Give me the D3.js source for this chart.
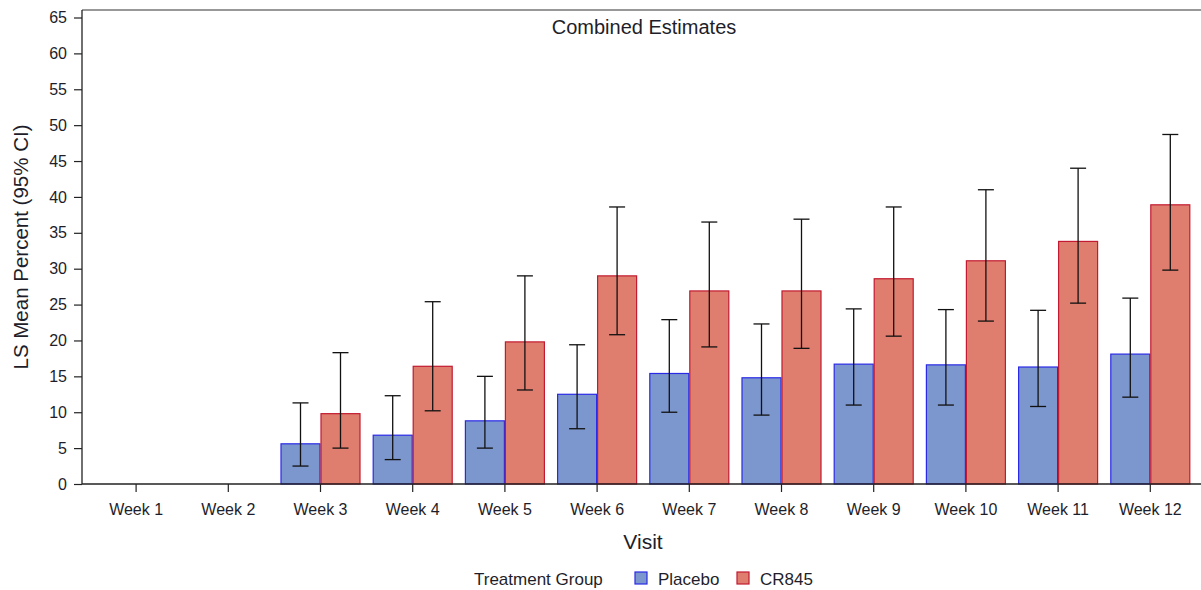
<!DOCTYPE html>
<html>
<head>
<meta charset="utf-8">
<script src="https://cdn.jsdelivr.net/npm/d3@7"></script>
<style>
  html, body { margin: 0; padding: 0; background: #fff; }
  svg { display: block; font-family: "Liberation Sans", Arial, sans-serif; }
</style>
</head>
<body>
<svg id="chart" width="1201" height="590"></svg>
<script>
// ---- data ----
const weeks = ["Week 1","Week 2","Week 3","Week 4","Week 5","Week 6","Week 7","Week 8","Week 9","Week 10","Week 11","Week 12"];
const groups = ["Placebo","CR845"];
const placeboMean  = [null, null, 5.6, 6.8, 8.8, 12.5, 15.4, 14.8, 16.7, 16.6, 16.3, 18.1];
const placeboLower = [null, null, 2.5, 3.4, 5.0, 7.7, 10.0, 9.6, 11.0, 11.0, 10.8, 12.1];
const placeboUpper = [null, null, 11.3, 12.3, 15.0, 19.4, 22.9, 22.3, 24.4, 24.3, 24.2, 25.9];
const cr845Mean    = [null, null, 9.8, 16.4, 19.8, 29.0, 26.9, 26.9, 28.6, 31.1, 33.8, 38.9];
const cr845Lower   = [null, null, 5.0, 10.2, 13.1, 20.8, 19.1, 18.9, 20.6, 22.7, 25.2, 29.8];
const cr845Upper   = [null, null, 18.3, 25.4, 29.0, 38.6, 36.5, 36.9, 38.6, 41.0, 44.0, 48.7];
const yTicks = [0,5,10,15,20,25,30,35,40,45,50,55,60,65];

const fills   = {"Placebo": "#7C97CD", "CR845": "#DF7E6E"};
const strokes = {"Placebo": "#2A2AE6", "CR845": "#C21A30"};
const textColor = "#1e1e2a";

const svg = d3.select("#chart");

const plot = {left: 82, top: 10, right: 1201, bottom: 484};

const y = d3.scaleLinear().domain([0, 65]).range([plot.bottom, 17.5]);
const x0 = d3.scaleBand().domain(weeks).range([90, 90 + 12 * 92.2]).padding(0);
const x1 = d3.scaleBand().domain(groups).range([6.1, 86.1]).padding(0);

// rows
const rows = [];
weeks.forEach((w, i) => {
  rows.push({week: w, group: "Placebo", mean: placeboMean[i], lo: placeboLower[i], hi: placeboUpper[i]});
  rows.push({week: w, group: "CR845", mean: cr845Mean[i], lo: cr845Lower[i], hi: cr845Upper[i]});
});
const valid = rows.filter(r => r.mean != null);

// frame top line
svg.append("line")
  .attr("x1", plot.left).attr("x2", plot.right)
  .attr("y1", plot.top).attr("y2", plot.top)
  .attr("stroke", "#333").attr("stroke-width", 1.2);

// bars
svg.append("g").selectAll("rect").data(valid).join("rect")
  .attr("x", d => x0(d.week) + x1(d.group) + 0.5)
  .attr("width", x1.bandwidth() - 1)
  .attr("y", d => y(d.mean))
  .attr("height", d => y(0) - y(d.mean))
  .attr("fill", d => fills[d.group])
  .attr("stroke", d => strokes[d.group])
  .attr("stroke-width", 1.2);

// error bars
const eb = svg.append("g").attr("stroke", "#111").attr("stroke-width", 1.3).attr("fill", "none");
valid.forEach(d => {
  const cx = x0(d.week) + x1(d.group) + x1.bandwidth() / 2;
  eb.append("line").attr("x1", cx).attr("x2", cx).attr("y1", y(d.lo)).attr("y2", y(d.hi));
  eb.append("line").attr("x1", cx - 8).attr("x2", cx + 8).attr("y1", y(d.lo)).attr("y2", y(d.lo));
  eb.append("line").attr("x1", cx - 8).attr("x2", cx + 8).attr("y1", y(d.hi)).attr("y2", y(d.hi));
});

// y axis
const yAxis = svg.append("g").attr("transform", `translate(${plot.left},0)`)
  .call(d3.axisLeft(y).tickValues(yTicks).tickSize(8).tickPadding(7).tickSizeOuter(0));
yAxis.select(".domain").attr("d", `M0,${plot.top}V${plot.bottom}`).attr("stroke", "#222").attr("stroke-width", 1.3);
yAxis.selectAll(".tick line").attr("stroke", "#222").attr("stroke-width", 1.2);
yAxis.selectAll(".tick text").attr("font-size", 16).attr("fill", textColor)
  .attr("font-family", "Liberation Sans, Arial, sans-serif");

// x axis
const xAxis = svg.append("g").attr("transform", `translate(0,${plot.bottom})`)
  .call(d3.axisBottom(x0).tickSize(8).tickPadding(12).tickSizeOuter(0));
xAxis.select(".domain").attr("d", `M${plot.left},0H${plot.right}`).attr("stroke", "#222").attr("stroke-width", 1.3);
xAxis.selectAll(".tick line").attr("stroke", "#222").attr("stroke-width", 1.2);
xAxis.selectAll(".tick text").attr("font-size", 16).attr("fill", textColor)
  .attr("font-family", "Liberation Sans, Arial, sans-serif");

// title
svg.append("text").attr("x", 644).attr("y", 34).attr("text-anchor", "middle")
  .attr("font-size", 20).attr("fill", textColor).text("Combined Estimates");

// axis labels
svg.append("text").attr("x", 643).attr("y", 549).attr("text-anchor", "middle")
  .attr("font-size", 21).attr("fill", textColor).text("Visit");
svg.append("text").attr("transform", "translate(28,247) rotate(-90)").attr("text-anchor", "middle")
  .attr("font-size", 20.5).attr("fill", textColor).text("LS Mean Percent (95% CI)");

// legend
const lg = svg.append("g").attr("font-size", 17).attr("fill", textColor);
lg.append("text").attr("x", 474).attr("y", 585).text("Treatment Group");
const items = [{g: "Placebo", x: 635}, {g: "CR845", x: 737}];
items.forEach(it => {
  lg.append("rect").attr("x", it.x).attr("y", 572).attr("width", 12).attr("height", 12)
    .attr("fill", fills[it.g]).attr("stroke", strokes[it.g]).attr("stroke-width", 1.2);
  lg.append("text").attr("x", it.x + 23).attr("y", 585).text(it.g);
});
</script>
</body>
</html>
